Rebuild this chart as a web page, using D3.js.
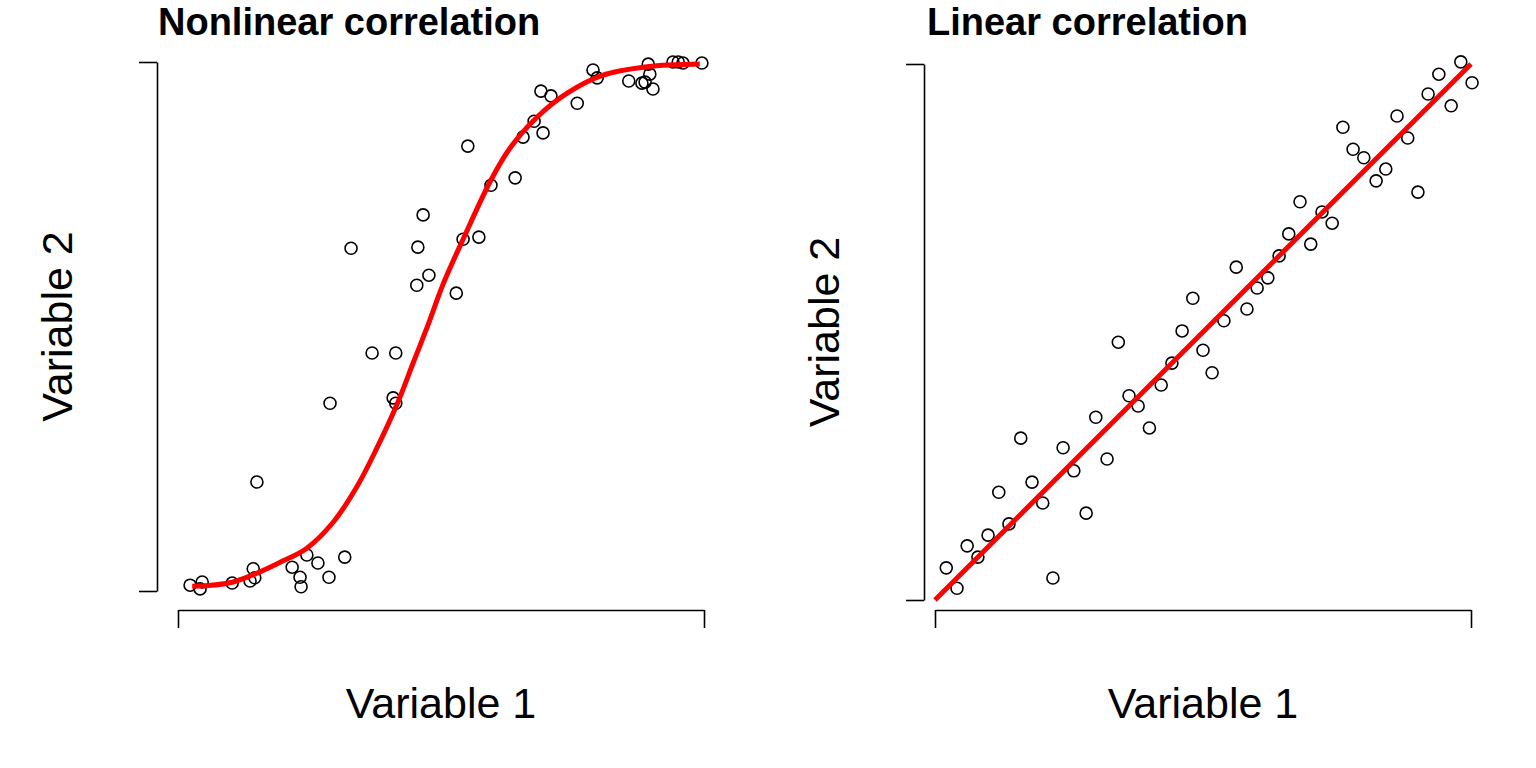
<!DOCTYPE html>
<html lang="en">
<head>
  <meta charset="UTF-8">
  <title>Nonlinear vs linear correlation</title>
  <script src="https://d3js.org/d3.v7.min.js"></script>
  <style>
    html, body {
      margin: 0;
      background: #fff;
    }
    .title0 {
      font-family: "Liberation Sans", Arial, sans-serif;
      font-weight: bold;
      font-size: 38px;
    }
    .axis-label {
      font-family: "Liberation Sans", Arial, sans-serif;
      font-size: 43px;
      text-anchor: middle;
    }
    .pt {
      fill: none;
      stroke: #000;
      stroke-width: 1.6px;
    }
    .fit {
      fill: none;
      stroke: #ff0000;
      stroke-width: 5px;
    }
    .axis path, .axis line {
      stroke: #000;
      stroke-width: 1.6px;
    }
  </style>
</head>
<body>
  <svg width="1536" height="768"></svg>

  <script>
    // left panel: sigmoid-shaped data
    const nonlinX = [0.23, 0.46, 0.42, 1.03, 1.37, 1.43, 1.46, 2.17, 2.32, 2.34,
                     2.45, 2.66, 2.87, 3.17, 1.50, 2.89, 4.09, 4.14, 3.69, 4.14,
                     4.66, 3.29, 4.56, 4.77, 4.54, 5.29, 5.42, 5.72, 5.95, 6.41,
                     5.51, 6.56, 6.94, 6.77, 6.90, 7.09, 7.59, 7.89, 7.97, 8.57,
                     8.94, 8.97, 8.82, 8.88, 9.03, 9.41, 9.51, 9.60, 9.96];
    const nonlinY = [0.11, 0.17, 0.04, 0.15, 0.19, 0.42, 0.25, 0.45, 0.26, 0.08,
                     0.68, 0.53, 0.26, 0.64, 2.06, 3.55, 3.65, 3.55, 4.50, 4.50,
                     7.11, 6.48, 6.50, 5.97, 5.78, 5.63, 6.65, 6.69, 7.67, 7.81,
                     8.41, 8.58, 8.66, 8.88, 9.45, 9.36, 9.22, 9.85, 9.70, 9.64,
                     9.96, 9.77, 9.60, 9.62, 9.49, 10.00, 10.00, 9.98, 9.98];
    // fitted curve
    const nonlinFitX = [0.27, 1.05, 2.00, 2.45, 2.95, 3.40, 3.78, 4.16, 4.47, 4.75,
                        5.04, 5.42, 5.95, 6.31, 6.83, 7.40, 8.08, 8.92, 9.92];
    const nonlinFitY = [0.09, 0.17, 0.57, 0.81, 1.30, 1.97, 2.70, 3.52, 4.31, 5.02,
                        5.80, 6.65, 7.77, 8.37, 8.96, 9.41, 9.75, 9.91, 9.96];

    // right panel: linear data
    const linX = [0.21, 0.41, 0.60, 0.80, 0.99, 1.19, 1.38, 1.60, 1.81, 2.01,
                  2.20, 2.39, 2.59, 2.82, 3.00, 3.21, 3.42, 3.62, 3.79, 4.00,
                  4.22, 4.42, 4.61, 4.81, 5.00, 5.17, 5.39, 5.62, 5.82, 6.01,
                  6.21, 6.42, 6.60, 6.81, 7.01, 7.22, 7.41, 7.61, 7.80, 8.00,
                  8.23, 8.41, 8.62, 8.82, 9.01, 9.20, 9.40, 9.63, 9.81, 10.02];
    const linY = [0.60, 0.22, 1.01, 0.80, 1.21, 2.01, 1.42, 3.02, 2.20, 1.81,
                  0.41, 2.84, 2.41, 1.62, 3.41, 2.63, 4.81, 3.81, 3.62, 3.21,
                  4.01, 4.42, 5.02, 5.63, 4.66, 4.24, 5.21, 6.21, 5.43, 5.82,
                  6.01, 6.42, 6.83, 7.43, 6.64, 7.24, 7.03, 8.82, 8.41, 8.25,
                  7.82, 8.04, 9.03, 8.62, 7.61, 9.44, 9.81, 9.22, 10.04, 9.65];
    const linFitX = [0, 10];
    const linFitY = [0, 10];

    const tickVals = [0, 10];
    const titles = ["Nonlinear correlation", "Linear correlation"];
    const xLabel = "Variable 1";
    const yLabel = "Variable 2";

    const svg = d3.select("svg");
    svg.append("rect").attr("width", 1536).attr("height", 768).attr("fill", "#fff");

    // panel geometry (pixels)
    const panels = [
      { title: titles[0], xs: nonlinX, ys: nonlinY, fx: nonlinFitX, fy: nonlinFitY,
        xr: [178, 704], yr: [591, 62], yAxisX: 157, xAxisY: 610, titleX: 158 },
      { title: titles[1], xs: linX, ys: linY, fx: linFitX, fy: linFitY,
        xr: [935, 1471], yr: [600, 64], yAxisX: 924, xAxisY: 610, titleX: 927 }
    ];

    panels.forEach(p => {
      const x = d3.scaleLinear().domain([0, 10]).range(p.xr);
      const y = d3.scaleLinear().domain([0, 10]).range(p.yr);

      svg.append("g")
         .attr("class", "axis")
         .attr("transform", `translate(0, ${p.xAxisY})`)
         .call(d3.axisBottom(x).tickValues(tickVals).tickFormat("").tickSize(18).tickSizeOuter(0));

      svg.append("g")
         .attr("class", "axis")
         .attr("transform", `translate(${p.yAxisX}, 0)`)
         .call(d3.axisLeft(y).tickValues(tickVals).tickFormat("").tickSize(18).tickSizeOuter(0));

      const pts = p.xs.map((v, i) => ({ x: v, y: p.ys[i] }));
      svg.append("g").selectAll("circle")
         .data(pts)
         .enter()
         .append("circle")
         .attr("class", "pt")
         .attr("cx", d => x(d.x))
         .attr("cy", d => y(d.y))
         .attr("r", 6);

      const fit = p.fx.map((v, i) => [v, p.fy[i]]);
      svg.append("path")
         .datum(fit)
         .attr("class", "fit")
         .attr("d", d3.line().x(d => x(d[0])).y(d => y(d[1])).curve(d3.curveCatmullRom.alpha(0.5)));

      svg.append("text")
         .attr("class", "title0")
         .attr("x", p.titleX)
         .attr("y", 35)
         .text(p.title);

      svg.append("text")
         .attr("class", "axis-label")
         .attr("x", (p.xr[0] + p.xr[1]) / 2)
         .attr("y", 718)
         .text(xLabel);

      const yMid = (p.yr[0] + p.yr[1]) / 2;
      svg.append("text")
         .attr("class", "axis-label")
         .attr("transform", `translate(${p.yAxisX - 85}, ${yMid}) rotate(-90)`)
         .text(yLabel);
    });
  </script>
</body>
</html>
